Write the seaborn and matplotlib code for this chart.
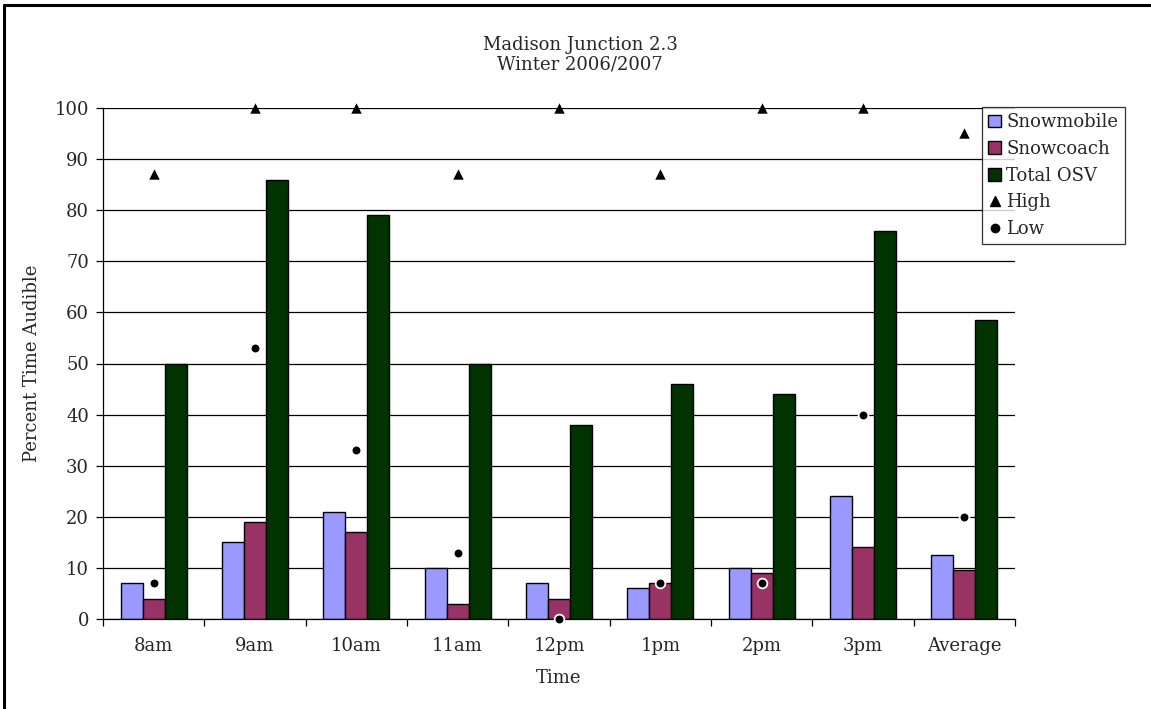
import numpy as np
import pandas as pd
import matplotlib
matplotlib.use("Agg")
import matplotlib.pyplot as plt
from matplotlib.lines import Line2D
import seaborn as sns

times = ["8am", "9am", "10am", "11am", "12pm", "1pm", "2pm", "3pm", "Average"]
snowmobile = [7, 15, 21, 10, 7, 6, 10, 24, 12.5]
snowcoach = [4, 19, 17, 3, 4, 7, 9, 14, 9.6]
total_osv = [50, 86, 79, 50, 38, 46, 44, 76, 58.6]
high = [87, 100, 100, 87, 100, 87, 100, 100, 95.1]
low = [7, 53, 33, 13, 0, 7, 7, 40, 20]

series_names = ["Snowmobile", "Snowcoach", "Total OSV"]
series_colors = ["#9999FF", "#993366", "#003300"]

bars = pd.DataFrame({
    "Time": times * 3,
    "Series": [s for s in series_names for _ in times],
    "Value": snowmobile + snowcoach + total_osv,
})
points = pd.DataFrame({"Time": times, "High": high, "Low": low})

sns.set_theme(style="white")
plt.rcParams["font.family"] = ["DejaVu Serif"]
FS = 13

fig = plt.figure(figsize=(11.51, 7.09), dpi=100)
ax = fig.add_axes([103 / 1151, 1 - 619 / 709, 912 / 1151, 511 / 709])

# horizontal gridlines behind the bars
ax.set_axisbelow(True)
ax.yaxis.grid(True, color="black", linewidth=0.9)

sns.barplot(data=bars, x="Time", y="Value", hue="Series", order=times,
            hue_order=series_names, palette=series_colors, width=0.65,
            edgecolor="black", linewidth=1.0, saturation=1, ax=ax,
            errorbar=None, zorder=2)

sns.stripplot(data=points, x="Time", y="High", order=times, jitter=False,
              marker="^", color="black", size=7.5, linewidth=0, ax=ax, zorder=4)
sns.stripplot(data=points, x="Time", y="Low", order=times, jitter=False,
              marker="o", color="black", size=7, edgecolor="white",
              linewidth=1.3, ax=ax, zorder=4)
for coll in ax.collections:
    coll.set_clip_on(False)

ax.set_ylim(0, 100)
ax.set_xlim(-0.5, len(times) - 0.5)
ax.set_yticks(np.arange(0, 101, 10))
ax.tick_params(axis="y", which="major", left=True, length=5, width=0.9,
               color="black", labelsize=FS, pad=5)
ax.tick_params(axis="x", which="major", bottom=False, labelsize=FS, pad=7)
# category boundary ticks along the bottom axis
ax.set_xticks(np.arange(-0.5, len(times), 1.0), minor=True)
ax.tick_params(axis="x", which="minor", bottom=True, length=5, width=0.9,
               color="black")

for side in ["top", "right"]:
    ax.spines[side].set_visible(False)
for side in ["left", "bottom"]:
    ax.spines[side].set_color("black")
    ax.spines[side].set_linewidth(0.9)

ax.set_xlabel("Time", fontsize=FS, labelpad=10)
ax.set_ylabel("Percent Time Audible", fontsize=FS, labelpad=10)
ax.set_title("Madison Junction 2.3\nWinter 2006/2007", fontsize=FS,
             pad=28, linespacing=1.1, x=0.523)

handles, labels = ax.get_legend_handles_labels()
handles = handles[:3] + [
    Line2D([], [], linestyle="none", marker="^", color="black", markersize=7),
    Line2D([], [], linestyle="none", marker="o", color="black", markersize=6),
]
labels = series_names + ["High", "Low"]
if ax.get_legend():
    ax.get_legend().remove()
leg = fig.legend(handles, labels, loc="upper left",
                 bbox_to_anchor=(982 / 1151, 1 - 107 / 709),
                 fontsize=FS, frameon=True, fancybox=False,
                 edgecolor="black", handlelength=0.7, handleheight=0.7,
                 handletextpad=0.3, borderpad=0.35, labelspacing=0.48,
                 borderaxespad=0)
leg.get_frame().set_linewidth(0.9)

# outer frame along the top and left edges
fig.add_artist(Line2D([4 / 1151, 4 / 1151], [0, 1 - 5 / 709], color="black",
                      linewidth=2.2, transform=fig.transFigure))
fig.add_artist(Line2D([4 / 1151, 1], [1 - 5 / 709, 1 - 5 / 709], color="black",
                      linewidth=2.2, transform=fig.transFigure))

fig.savefig("out.png", dpi=100, facecolor="white")
